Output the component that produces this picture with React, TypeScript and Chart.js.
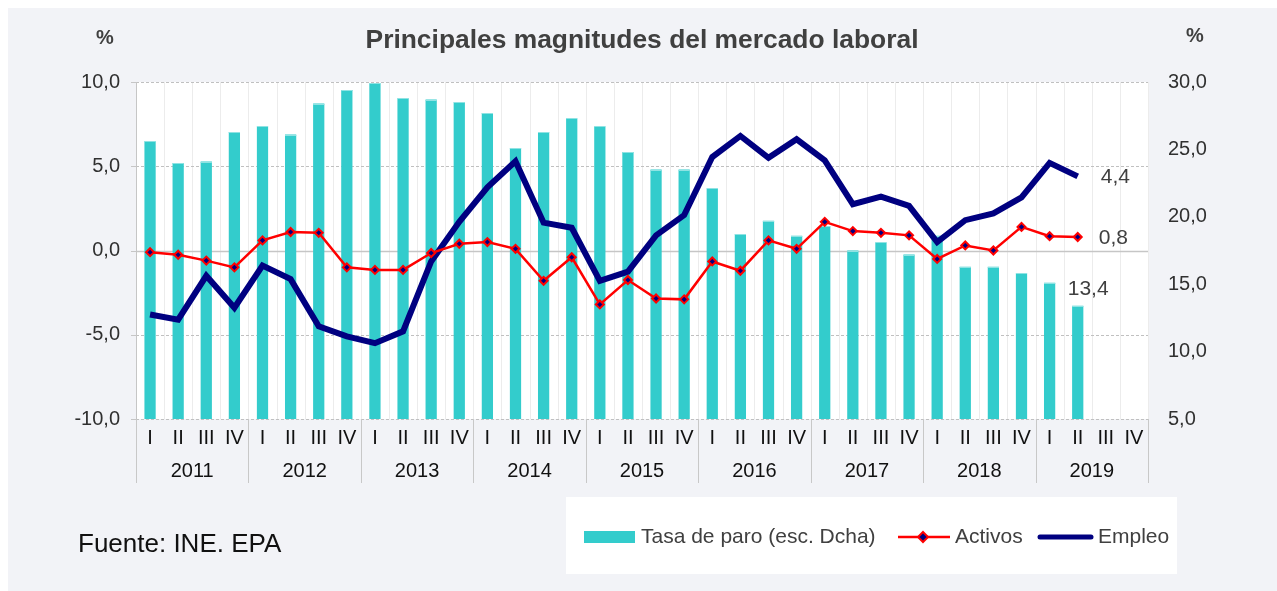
import React, { useEffect, useRef } from 'react';
import { Chart, registerables } from 'chart.js';

Chart.register(...registerables);

const YEARS = ['2011', '2012', '2013', '2014', '2015', '2016', '2017', '2018', '2019'];
const QUARTERS = ['I', 'II', 'III', 'IV'];
const CATEGORIES = YEARS.flatMap((y) => QUARTERS.map((q) => `${y}-${q}`));

const TASA_PARO = [
  25.6, 24.0, 24.1, 26.3, 26.7, 26.1, 28.4, 29.4, 29.9, 28.8, 28.7, 28.5,
  27.7, 25.1, 26.3, 27.3, 26.7, 24.8, 23.5, 23.5, 22.1, 18.7, 19.7, 18.6,
  19.3, 17.5, 18.1, 17.2, 18.6, 16.3, 16.3, 15.8, 15.1, 13.4, null, null,
];
const ACTIVOS = [
  -0.1, -0.25, -0.6, -1.0, 0.6, 1.1, 1.05, -1.0, -1.15, -1.15, -0.15, 0.4,
  0.5, 0.1, -1.8, -0.4, -3.2, -1.75, -2.85, -2.9, -0.65, -1.2, 0.6, 0.1,
  1.7, 1.15, 1.05, 0.9, -0.5, 0.3, 0.0, 1.4, 0.85, 0.8, null, null,
];
const EMPLEO = [
  -3.8, -4.1, -1.5, -3.4, -0.9, -1.7, -4.5, -5.1, -5.5, -4.8, -0.65, 1.7,
  3.75, 5.3, 1.65, 1.35, -1.8, -1.25, 0.9, 2.1, 5.55, 6.8, 5.5, 6.6,
  5.35, 2.75, 3.2, 2.65, 0.5, 1.8, 2.2, 3.15, 5.2, 4.4, null, null,
];
const LEFT_TICKS = [-10, -5, 0, 5, 10];

const TITLE = 'Principales magnitudes del mercado laboral';
const SOURCE = 'Fuente: INE. EPA';
const LEGEND_LABELS = ['Tasa de paro (esc. Dcha)', 'Activos', 'Empleo'];
const LAST_LABELS = ['13,4', '0,8', '4,4'];

const W = 1269;
const H = 583;
const FONT = "'Liberation Sans', Arial, sans-serif";
const TEAL = '#33CCCC';
const RED = '#FF0000';
const NAVY = '#000080';

const fmt = (v: number) => v.toFixed(1).replace('.', ',');

const decor = {
  id: 'decor',
  beforeDraw(chart: any) {
    const { ctx, chartArea: a } = chart;
    ctx.save();
    ctx.fillStyle = '#f2f3f7';
    ctx.fillRect(0, 0, chart.width, chart.height);
    ctx.fillStyle = '#ffffff';
    ctx.fillRect(a.left, a.top, a.right - a.left, a.bottom - a.top);
    ctx.fillRect(558, 489, 611, 77);
    ctx.restore();
  },
  beforeDatasetsDraw(chart: any) {
    const { ctx, chartArea: a, scales } = chart;
    const y = scales.y;
    ctx.save();
    const n = CATEGORIES.length;
    const cw = (a.right - a.left) / n;
    ctx.strokeStyle = '#ececec';
    ctx.lineWidth = 1;
    for (let i = 1; i <= n; i++) {
      const x = Math.round(a.left + i * cw) + 0.5;
      ctx.beginPath();
      ctx.moveTo(x, a.top);
      ctx.lineTo(x, a.bottom);
      ctx.stroke();
    }
    LEFT_TICKS.forEach((t) => {
      const py = Math.round(y.getPixelForValue(t)) + 0.5;
      ctx.beginPath();
      if (t === 0) {
        ctx.setLineDash([]);
        ctx.strokeStyle = '#c6c6c6';
        ctx.lineWidth = 1.5;
      } else {
        ctx.setLineDash([3, 2]);
        ctx.strokeStyle = '#c0c0c0';
        ctx.lineWidth = 1;
      }
      ctx.moveTo(a.left, py);
      ctx.lineTo(a.right, py);
      ctx.stroke();
      ctx.setLineDash([]);
      ctx.strokeStyle = '#c6c6c6';
      ctx.lineWidth = 1;
      ctx.beginPath();
      ctx.moveTo(a.left - 5, py);
      ctx.lineTo(a.left, py);
      ctx.stroke();
    });
    ctx.strokeStyle = '#c6c6c6';
    ctx.beginPath();
    ctx.moveTo(a.left + 0.5, a.top);
    ctx.lineTo(a.left + 0.5, a.bottom);
    ctx.stroke();
    ctx.restore();
  },
  afterDatasetDraw(chart: any, args: any) {
    if (args.index !== 0) return;
    const { ctx } = chart;
    ctx.save();
    ctx.strokeStyle = '#8fe3e3';
    ctx.lineWidth = 1;
    chart.getDatasetMeta(0).data.forEach((b: any, i: number) => {
      if (TASA_PARO[i] == null) return;
      ctx.beginPath();
      ctx.moveTo(b.x - b.width / 2, Math.round(b.y) + 0.5);
      ctx.lineTo(b.x + b.width / 2, Math.round(b.y) + 0.5);
      ctx.stroke();
    });
    ctx.restore();
  },
  afterDatasetsDraw(chart: any) {
    const { ctx } = chart;
    const last = 33;
    const bar = chart.getDatasetMeta(0).data[last];
    const act = chart.getDatasetMeta(1).data[last];
    const emp = chart.getDatasetMeta(2).data[last];
    ctx.save();
    ctx.font = `21px ${FONT}`;
    ctx.fillStyle = '#404040';
    ctx.textAlign = 'left';
    ctx.textBaseline = 'middle';
    if (bar) ctx.fillText(LAST_LABELS[0], bar.x - 10, bar.y - 17);
    if (act) ctx.fillText(LAST_LABELS[1], act.x + 21, act.y + 1);
    if (emp) ctx.fillText(LAST_LABELS[2], emp.x + 23, emp.y + 1);
    ctx.restore();
  },
  afterDraw(chart: any) {
    const { ctx, chartArea: a, scales } = chart;
    const x = scales.x;
    const n = CATEGORIES.length;
    const cw = (a.right - a.left) / n;
    ctx.save();
    ctx.strokeStyle = '#c8c8c8';
    ctx.lineWidth = 1;
    for (let g = 0; g <= YEARS.length; g++) {
      const px = Math.round(a.left + g * 4 * cw) + 0.5;
      ctx.beginPath();
      ctx.moveTo(px, a.bottom);
      ctx.lineTo(px, a.bottom + 64);
      ctx.stroke();
    }
    ctx.font = `20px ${FONT}`;
    ctx.fillStyle = '#111111';
    ctx.textAlign = 'center';
    ctx.textBaseline = 'middle';
    YEARS.forEach((yr, g) => {
      const cx = (x.getPixelForValue(g * 4) + x.getPixelForValue(g * 4 + 3)) / 2;
      ctx.fillText(yr, cx, a.bottom + 52);
    });
    ctx.font = `bold 26.4px ${FONT}`;
    ctx.fillStyle = '#404040';
    ctx.fillText(TITLE, 634, 33);
    ctx.font = `bold 20px ${FONT}`;
    ctx.fillText('%', 97, 30);
    ctx.fillText('%', 1187, 28);
    ctx.font = `26px ${FONT}`;
    ctx.fillStyle = '#111111';
    ctx.textAlign = 'left';
    ctx.fillText(SOURCE, 70, 537);
    const ly = 529;
    ctx.font = `21px ${FONT}`;
    ctx.fillStyle = TEAL;
    ctx.fillRect(576, ly - 6, 51, 12);
    ctx.fillStyle = '#404040';
    ctx.fillText(LEGEND_LABELS[0], 633, ly);
    ctx.strokeStyle = RED;
    ctx.lineWidth = 2.5;
    ctx.beginPath();
    ctx.moveTo(890, ly);
    ctx.lineTo(942, ly);
    ctx.stroke();
    ctx.beginPath();
    ctx.moveTo(915, ly - 5);
    ctx.lineTo(920, ly);
    ctx.lineTo(915, ly + 5);
    ctx.lineTo(910, ly);
    ctx.closePath();
    ctx.fillStyle = NAVY;
    ctx.fill();
    ctx.lineWidth = 2;
    ctx.stroke();
    ctx.fillStyle = '#404040';
    ctx.fillText(LEGEND_LABELS[1], 947, ly);
    ctx.strokeStyle = NAVY;
    ctx.lineWidth = 5;
    ctx.lineCap = 'round';
    ctx.beginPath();
    ctx.moveTo(1032, ly);
    ctx.lineTo(1083, ly);
    ctx.stroke();
    ctx.fillText(LEGEND_LABELS[2], 1090, ly);
    ctx.restore();
  },
};

export default function App() {
  const ref = useRef<HTMLCanvasElement | null>(null);
  useEffect(() => {
    document.body.style.overflow = 'hidden';
    if (!ref.current) return;
    const chart = new Chart(ref.current, {
      type: 'bar',
      data: {
        labels: CATEGORIES,
        datasets: [
          {
            type: 'bar',
            label: LEGEND_LABELS[0],
            data: TASA_PARO as any,
            yAxisID: 'y1',
            backgroundColor: TEAL,
            barPercentage: 0.4,
            categoryPercentage: 1.0,
            order: 3,
          },
          {
            type: 'line',
            label: LEGEND_LABELS[1],
            data: ACTIVOS as any,
            yAxisID: 'y',
            borderColor: RED,
            borderWidth: 2.5,
            pointStyle: 'rectRot',
            pointRadius: 4,
            pointBorderWidth: 2,
            pointBorderColor: RED,
            pointBackgroundColor: NAVY,
            tension: 0,
            order: 1,
          },
          {
            type: 'line',
            label: LEGEND_LABELS[2],
            data: EMPLEO as any,
            yAxisID: 'y',
            borderColor: NAVY,
            borderWidth: 6,
            pointRadius: 0,
            borderJoinStyle: 'miter',
            tension: 0,
            order: 2,
          },
        ],
      },
      options: {
        responsive: false,
        animation: false,
        layout: { padding: { top: 74, left: 0, right: 0, bottom: 0 } },
        plugins: {
          legend: { display: false },
          title: { display: false },
          tooltip: { enabled: false },
        },
        scales: {
          x: {
            offset: true,
            grid: { display: false, drawTicks: false },
            border: { display: false },
            ticks: {
              autoSkip: false,
              maxRotation: 0,
              padding: 7,
              color: '#111111',
              font: { family: FONT, size: 20 },
              callback: (_v: any, i: number) => QUARTERS[i % 4],
            },
            afterFit: (s: any) => {
              s.height = 172;
            },
          },
          y: {
            position: 'left',
            min: -10,
            max: 10,
            grid: { display: false, drawTicks: false },
            border: { display: false },
            ticks: {
              stepSize: 5,
              padding: 16,
              color: '#303030',
              font: { family: FONT, size: 20 },
              callback: (v: any) => fmt(Number(v)),
            },
            afterFit: (s: any) => {
              s.width = 128;
            },
          },
          y1: {
            position: 'right',
            min: 5,
            max: 30,
            grid: { display: false, drawTicks: false },
            border: { display: false },
            ticks: {
              stepSize: 5,
              padding: 20,
              color: '#303030',
              font: { family: FONT, size: 20 },
              callback: (v: any) => fmt(Number(v)),
            },
            afterFit: (s: any) => {
              s.width = 129;
            },
          },
        },
      },
      plugins: [decor],
    });
    return () => chart.destroy();
  }, []);
  return (
    <div style={{ position: 'fixed', left: 8, top: 8, width: W, height: H }}>
      <canvas ref={ref} width={W} height={H} style={{ display: 'block', width: W, height: H }} />
    </div>
  );
}
